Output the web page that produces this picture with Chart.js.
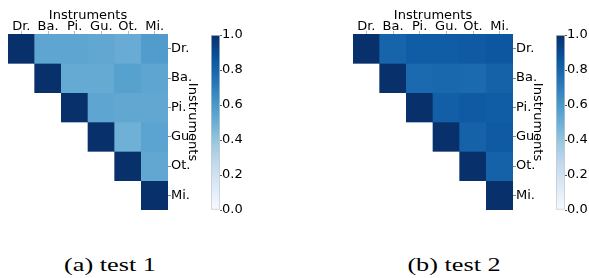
<!DOCTYPE html>
<html lang="en">
<head>
  <meta charset="UTF-8">
  <title>Instrument similarity - test 1 / test 2</title>
  <style>
    body { margin: 0; background: #fff; }
    #wrap { position: relative; width: 589px; height: 278px; overflow: hidden; }
    canvas { position: absolute; top: 0; }
    .caption {
      position: absolute;
      top: 254px;
      width: 200px;
      text-align: center;
      font-family: "Liberation Serif", serif;
      font-size: 19px;
      line-height: 21px;
      color: #000;
      transform: scaleX(1.38);
    }
  </style>
  <script src="https://cdn.jsdelivr.net/npm/chart.js"></script>
</head>
<body>
  <div id="wrap">
    <canvas id="heat1" width="210" height="222" style="left:0px;width:210px;height:222px"></canvas>
    <canvas id="bar1" width="60" height="222" style="left:200px;width:60px;height:222px"></canvas>
    <canvas id="heat2" width="210" height="222" style="left:345px;width:210px;height:222px"></canvas>
    <canvas id="bar2" width="60" height="222" style="left:545px;width:60px;height:222px"></canvas>
    <div class="caption" style="left:10px">(a) test 1</div>
    <div class="caption" style="left:354px">(b) test 2</div>
  </div>

  <script>
    // labels and values (upper triangle, each row starts at the diagonal)
    const instruments = ['Dr.', 'Ba.', 'Pi.', 'Gu.', 'Ot.', 'Mi.'];
    const axisTitle = 'Instruments';

    const test1 = [
      [1.0, 0.54, 0.54, 0.53, 0.51, 0.58],
      [1.0, 0.52, 0.52, 0.56, 0.54],
      [1.0, 0.54, 0.53, 0.53],
      [1.0, 0.49, 0.55],
      [1.0, 0.53],
      [1.0]
    ];

    const test2 = [
      [1.0, 0.80, 0.83, 0.83, 0.84, 0.85],
      [1.0, 0.78, 0.79, 0.78, 0.81],
      [1.0, 0.82, 0.84, 0.83],
      [1.0, 0.81, 0.84],
      [1.0, 0.81],
      [1.0]
    ];

    const colorbarTicks = [0.0, 0.2, 0.4, 0.6, 0.8, 1.0];

    // matplotlib "Blues"
    const bluesStops = ['#f7fbff', '#deebf7', '#c6dbef', '#9ecae1', '#6baed6',
                        '#4292c6', '#2171b5', '#08519c', '#08306b'];

    function hexToRgb(h) {
      return [parseInt(h.slice(1, 3), 16), parseInt(h.slice(3, 5), 16), parseInt(h.slice(5, 7), 16)];
    }

    function blues(v) {
      const t = Math.max(0, Math.min(1, v)) * 8;
      const i = Math.min(7, Math.floor(t));
      const f = t - i;
      const a = hexToRgb(bluesStops[i]);
      const b = hexToRgb(bluesStops[i + 1]);
      const c = a.map((x, k) => Math.round(x + (b[k] - x) * f));
      return 'rgb(' + c.join(',') + ')';
    }

    Chart.defaults.font.family = 'DejaVu Sans';
    Chart.defaults.font.size = 13;
    Chart.defaults.color = '#000';
    Chart.defaults.animation = false;

    function makeHeatmap(id, values) {
      // one dataset per row, each cell is a floating bar [row, row + 1]
      const datasets = instruments.map((_, r) => ({
        data: instruments.map((_, c) => (c >= r ? [r, r + 1] : null)),
        backgroundColor: instruments.map((_, c) => (c >= r ? blues(values[r][c - r]) : 'rgba(0,0,0,0)')),
        borderWidth: 0
      }));

      new Chart(document.getElementById(id), {
        type: 'bar',
        data: { labels: instruments, datasets: datasets },
        options: {
          responsive: false,
          layout: { padding: { left: 8, top: 0, right: 0, bottom: 12 } },
          datasets: { bar: { barPercentage: 1, categoryPercentage: 1, grouped: false } },
          plugins: { legend: { display: false }, tooltip: { enabled: false } },
          scales: {
            x: {
              position: 'top',
              grid: { offset: false, drawOnChartArea: false, tickLength: 3, color: '#bbb' },
              border: { display: false },
              ticks: { padding: -3, maxRotation: 0, autoSkip: false },
              title: { display: true, text: axisTitle, padding: { top: 7.5, bottom: 0 } },
              afterFit: s => { s.height = 34; }
            },
            y: { display: false, min: 0, max: 6, reverse: true },
            yr: {
              type: 'category',
              labels: instruments,
              position: 'right',
              offset: true,
              grid: { offset: false, drawOnChartArea: false, tickLength: 3, color: '#888' },
              border: { display: false },
              ticks: { padding: 0 },
              title: { display: true, text: axisTitle, padding: { top: 10, bottom: 0 } },
              afterFit: s => { s.width = 42; }
            }
          }
        }
      });
    }

    function makeColorbar(id) {
      new Chart(document.getElementById(id), {
        type: 'bar',
        data: {
          labels: [''],
          datasets: [{
            data: [[0, 1]],
            backgroundColor: ctx => {
              const a = ctx.chart.chartArea;
              if (!a) return bluesStops[4];
              const g = ctx.chart.ctx.createLinearGradient(0, a.bottom, 0, a.top);
              bluesStops.forEach((c, i) => g.addColorStop(i / 8, c));
              return g;
            },
            borderColor: '#c8c8c8',
            borderWidth: 1,
            borderSkipped: false,
            barPercentage: 1,
            categoryPercentage: 1
          }]
        },
        options: {
          responsive: false,
          layout: { padding: { left: 11, top: 35, right: 0, bottom: 12 } },
          plugins: { legend: { display: false }, tooltip: { enabled: false } },
          scales: {
            x: { display: false },
            y: {
              position: 'right',
              min: 0,
              max: 1,
              grid: { drawOnChartArea: false, tickLength: 2, color: '#555' },
              border: { display: false },
              ticks: { padding: 0, callback: v => Number(v).toFixed(1) },
              afterBuildTicks: s => { s.ticks = colorbarTicks.map(v => ({ value: v })); },
              afterFit: s => { s.width = 40; }
            }
          }
        }
      });
    }

    makeHeatmap('heat1', test1);
    makeColorbar('bar1');
    makeHeatmap('heat2', test2);
    makeColorbar('bar2');
  </script>
</body>
</html>
